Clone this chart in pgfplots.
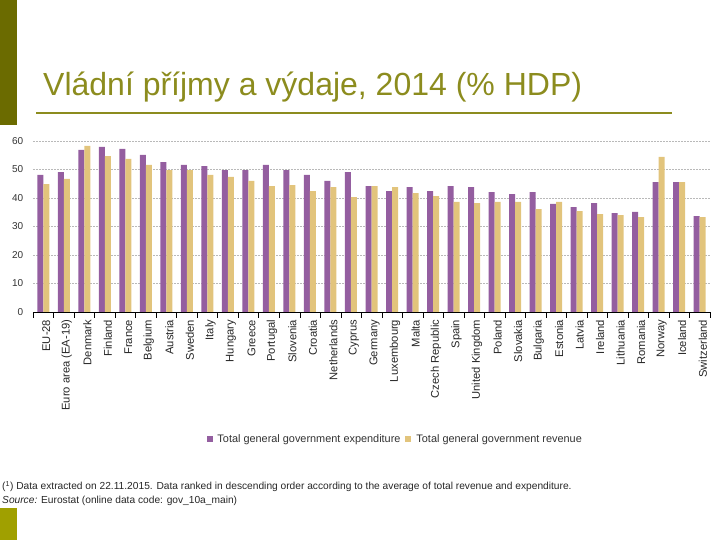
\documentclass[border=0pt]{standalone}
\usepackage{pgfplots}
\pgfplotsset{compat=1.18}
\usepackage{pgfplotstable}
\usepackage{fontspec}
\setmainfont{Liberation Sans}

\definecolor{expcol}{RGB}{148,94,160}
\definecolor{revcol}{RGB}{226,196,124}
\definecolor{olivedark}{RGB}{107,107,0}
\definecolor{olivetitle}{RGB}{140,140,30}
\definecolor{olivelight}{RGB}{160,160,0}

% general government expenditure / revenue, % of GDP, 2014
\pgfplotstableread{
idx exp  rev
0   48.1 44.9
1   49.1 46.7
2   56.9 58.3
3   57.9 54.7
4   57.2 53.7
5   55.1 51.6
6   52.6 49.8
7   51.6 49.8
8   51.2 48.1
9   49.8 47.4
10  49.8 46.0
11  51.6 44.2
12  49.8 44.5
13  48.1 42.4
14  46.0 43.8
15  49.1 40.3
16  44.2 44.2
17  42.4 43.8
18  43.8 41.7
19  42.4 40.7
20  44.2 38.6
21  43.8 38.2
22  42.1 38.6
23  41.4 38.6
24  42.1 36.1
25  37.9 38.6
26  36.8 35.4
27  38.2 34.3
28  34.7 34.0
29  35.1 33.3
30  45.6 54.4
31  45.6 45.6
32  33.6 33.3
}\govdata

\begin{document}
\begin{tikzpicture}
\useasboundingbox (0,0) rectangle (720bp,540bp);
\fill[olivedark] (0,415bp) rectangle (17bp,540bp);
\fill[olivelight] (0,0) rectangle (17bp,32bp);
\node[anchor=base west, inner sep=0, text=olivetitle,
  font=\fontsize{32bp}{36bp}\selectfont] at (43bp,444bp)
  {Vládní příjmy a výdaje, 2014 (\% HDP)};
\draw[olivetitle, line width=2bp] (36bp,427bp) -- (672bp,427bp);

\begin{axis}[
  at={(33bp,228bp)}, anchor=south west,
  scale only axis,
  width=677bp, height=171bp,
  ybar=0pt, bar width=6bp,
  xmin=-0.5, xmax=32.5,
  ymin=0, ymax=60,
  ytick={0,10,...,60},
  xtick={0,...,32},
  xticklabels={EU-28, Euro area (EA-19), Denmark, Finland, France, Belgium,
    Austria, Sweden, Italy, Hungary, Greece, Portugal, Slovenia, Croatia,
    Netherlands, Cyprus, Germany, Luxembourg, Malta, Czech Republic, Spain,
    United Kingdom, Poland, Slovakia, Bulgaria, Estonia, Latvia, Ireland,
    Lithuania, Romania, Norway, Iceland, Switzerland},
  minor xtick={-0.5,0.5,...,32.5},
  major x tick style={draw=none},
  minor x tick style={black, thin},
  minor tick length=6bp,
  tick align=outside,
  axis x line*=bottom,
  axis y line*=left,
  y axis line style={draw=none},
  ytick style={draw=none},
  x axis line style={black, thin, -},
  ymajorgrids=true,
  grid style={gray!55, thin, dash pattern=on 2bp off 1bp},
  /pgf/number format/assume math mode=true,
  yticklabel style={font=\fontsize{10bp}{12bp}\selectfont, text=black!80, xshift=-2bp},
  xticklabel style={font=\fontsize{11.2bp}{13bp}\selectfont, rotate=90,
    anchor=east, text=black!85, yshift=-3bp},
  legend columns=2,
  legend style={at={(0.535,-0.743)}, anchor=center, draw=none,
    font=\fontsize{10.9bp}{12bp}\selectfont, text=black!80,
    column sep=3bp, inner sep=0pt},
  legend image code/.code={\fill[#1, draw=none] (0bp,-3bp) rectangle (6bp,3bp);},
]
\addplot[fill=expcol, draw=none] table[x=idx, y=exp] {\govdata};
\addlegendentry{Total general government expenditure}
\addplot[fill=revcol, draw=none] table[x=idx, y=rev] {\govdata};
\addlegendentry{Total general government revenue}
\end{axis}

\node[anchor=base west, inner sep=0, font=\fontsize{10.2bp}{12bp}\selectfont, text=black!85]
  at (2bp,50bp) {(\textsuperscript{1}) Data extracted on 22.11.2015. Data ranked in descending order according to the average of total revenue and expenditure.};
\node[anchor=base west, inner sep=0, font=\fontsize{10.2bp}{12bp}\selectfont, text=black!85]
  at (2bp,37bp) {\textit{Source:} Eurostat (online data code: gov\_10a\_main)};
\end{tikzpicture}
\end{document}
